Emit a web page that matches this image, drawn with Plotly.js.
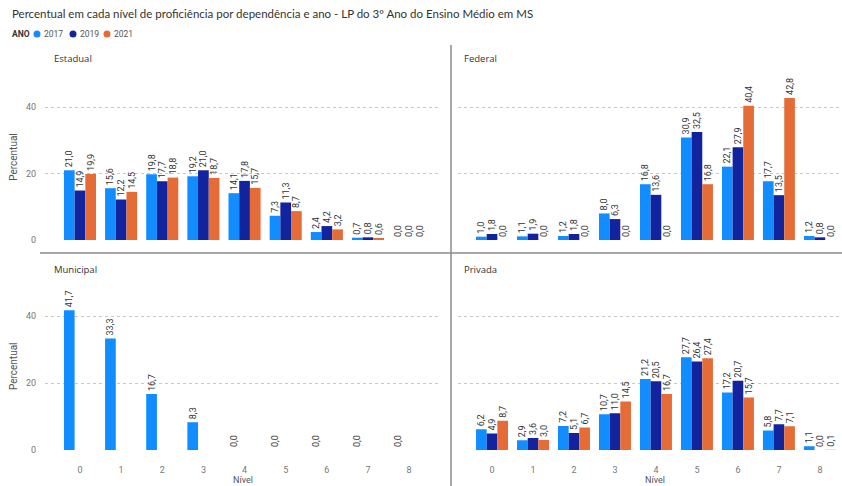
<!DOCTYPE html>
<html><head><meta charset="utf-8">
<script src="https://cdn.plot.ly/plotly-3.0.1.min.js"></script>
<style>html,body{margin:0;padding:0;background:#fff;}#chart{width:842px;height:486px;}</style>
</head><body><div id="chart"></div>
<script>
const niveis = ["0","1","2","3","4","5","6","7","8"];
const anos = ["2017","2019","2021"];
const cores = ["#118DFF","#12239E","#E66C37"];
const paineis = ["Estadual","Federal","Municipal","Privada"];

const estadual2017 = [21.0,15.6,19.8,19.2,14.1,7.3,2.4,0.7,0.0];
const estadual2019 = [14.9,12.2,17.7,21.0,17.8,11.3,4.2,0.8,0.0];
const estadual2021 = [19.9,14.5,18.8,18.7,15.7,8.7,3.2,0.6,0.0];

const federal2017 = [1.0,1.1,1.2,8.0,16.8,30.9,22.1,17.7,1.2];
const federal2019 = [1.8,1.9,1.8,6.3,13.6,32.5,27.9,13.5,0.8];
const federal2021 = [0.0,0.0,0.0,0.0,0.0,16.8,40.4,42.8,0.0];

const municipal2017 = [41.7,33.3,16.7,8.3,0.0,0.0,0.0,0.0,0.0];
const municipal2019 = [null,null,null,null,null,null,null,null,null];
const municipal2021 = [null,null,null,null,null,null,null,null,null];

const privada2017 = [6.2,2.9,7.2,10.7,21.2,27.7,17.2,5.8,1.1];
const privada2019 = [4.9,3.6,5.1,11.0,20.5,26.4,20.7,7.7,0.0];
const privada2021 = [8.7,3.0,6.7,14.5,16.7,27.4,15.7,7.1,0.1];

const dados = [
  [estadual2017,estadual2019,estadual2021],
  [federal2017,federal2019,federal2021],
  [municipal2017,municipal2019,municipal2021],
  [privada2017,privada2019,privada2021]
];

const fmt = v => (v===null ? "" : v.toFixed(1).replace(".", ","));
const W = 842, H = 486;
const px = x => x / W;
const py = y => 1 - y / H;

const traces = [];
dados.forEach((series, p) => {
  const ax = p === 0 ? "" : String(p + 1);
  series.forEach((vals, s) => {
    traces.push({
      type: "bar",
      x: niveis,
      y: vals,
      name: anos[s],
      legendgroup: anos[s],
      showlegend: false,
      xaxis: "x" + ax,
      yaxis: "y" + ax,
      marker: {color: cores[s]},
      text: vals.map(fmt),
      textposition: "outside",
      textangle: -90,
      constraintext: "none",
      cliponaxis: false,
      textfont: {family: "Roboto, 'DejaVu Sans', sans-serif", size: 9, color: "#333"},
      hoverinfo: "skip"
    });
  });
});

const grid = {showgrid: true, gridcolor: "#c8c8c8", griddash: "dot", gridwidth: 1, zeroline: false};
const xLeft = [px(45), px(440)], xRight = [px(458), px(840)];
const yTop = [py(240), py(74)], yBot = [py(450), py(282.5)];
const tickFont = {family: "Roboto, 'DejaVu Sans', sans-serif", size: 9, color: "#777"};

function xa(dom, anchor, range, showLabels) {
  return {domain: dom, anchor: anchor, type: "category", range: range, showgrid: false,
    zeroline: false, showline: false, ticks: "", showticklabels: showLabels, tickfont: tickFont,
    ticklabelstandoff: 13,
    categoryorder: "array", categoryarray: niveis,
    title: {text: ""}};
}
function ya(dom, anchor, showLabels) {
  return Object.assign({domain: dom, anchor: anchor, range: [0, 50], tickvals: [0, 20, 40],
    showticklabels: showLabels, tickfont: tickFont, ticks: "", showline: false,
    ticklabelstandoff: 8,
    title: showLabels ? {text: "Percentual", font: {family: "Roboto, sans-serif", size: 10, color: "#555"}, standoff: 6} : {text: ""}}, grid);
}

const legendShapes = anos.map((a, i) => {
  const cx = [37, 73, 107][i];
  return {type: "circle", xref: "paper", yref: "paper",
    x0: px(cx - 3.5), x1: px(cx + 3.5), y0: py(34 + 3.5), y1: py(34 - 3.5),
    fillcolor: cores[i], line: {width: 0}};
});

const layout = {
  width: W, height: H,
  margin: {l: 0, r: 0, t: 0, b: 0},
  paper_bgcolor: "#fff", plot_bgcolor: "rgba(0,0,0,0)",
  barmode: "group", bargap: 0.22, bargroupgap: 0,
  showlegend: false,
  font: {family: "Roboto, 'DejaVu Sans', sans-serif"},
  xaxis: xa(xLeft, "y", [-0.85, 8.75], false),
  yaxis: ya(yTop, "x", true),
  xaxis2: xa(xRight, "y2", [-0.83, 8.49], false),
  yaxis2: ya(yTop, "x2", false),
  xaxis3: xa(xLeft, "y3", [-0.85, 8.75], true),
  yaxis3: ya(yBot, "x3", true),
  xaxis4: xa(xRight, "y4", [-0.83, 8.49], true),
  yaxis4: ya(yBot, "x4", false),
  shapes: [
    {type: "line", xref: "paper", yref: "paper", x0: px(40), x1: 1, y0: py(253), y1: py(253), line: {color: "#8a8a8a", width: 1.5}},
    {type: "line", xref: "paper", yref: "paper", x0: px(451), x1: px(451), y0: py(45), y1: 0, line: {color: "#8a8a8a", width: 1.5}},
    ...legendShapes
  ],
  annotations: [
    {text: "Percentual em cada nível de proficiência por dependência e ano - LP do 3º Ano do Ensino Médio em MS",
     xref: "paper", yref: "paper", x: px(10), y: py(14), xanchor: "left", yanchor: "middle", showarrow: false,
     font: {family: "Lato, 'Open Sans', sans-serif", size: 11.5, color: "#333"}},
    {text: "<b>ANO</b>", xref: "paper", yref: "paper", x: px(10), y: py(34), xanchor: "left", yanchor: "middle", showarrow: false,
     font: {family: "Roboto, sans-serif", size: 8.5, color: "#333"}},
    ...anos.map((a, i) => ({text: a,
     xref: "paper", yref: "paper", x: px([42, 78, 112][i]), y: py(34), xanchor: "left", yanchor: "middle", showarrow: false,
     font: {family: "Roboto, sans-serif", size: 8.5, color: "#555"}})),
    ...paineis.map((t, i) => ({text: t, xref: "paper", yref: "paper",
     x: px(i % 2 === 0 ? 52 : 462), y: py(i < 2 ? 58 : 269), xanchor: "left", yanchor: "middle", showarrow: false,
     font: {family: "'Open Sans', sans-serif", size: 9.5, color: "#333"}})),
    ...[243, 655].map(cx => ({text: "Nível", xref: "paper", yref: "paper", x: px(cx), y: py(479.5),
     xanchor: "center", yanchor: "middle", showarrow: false,
     font: {family: "Roboto, sans-serif", size: 9, color: "#555"}}))
  ]
};

Plotly.newPlot("chart", traces, layout, {staticPlot: true, displayModeBar: false});
</script></body></html>
